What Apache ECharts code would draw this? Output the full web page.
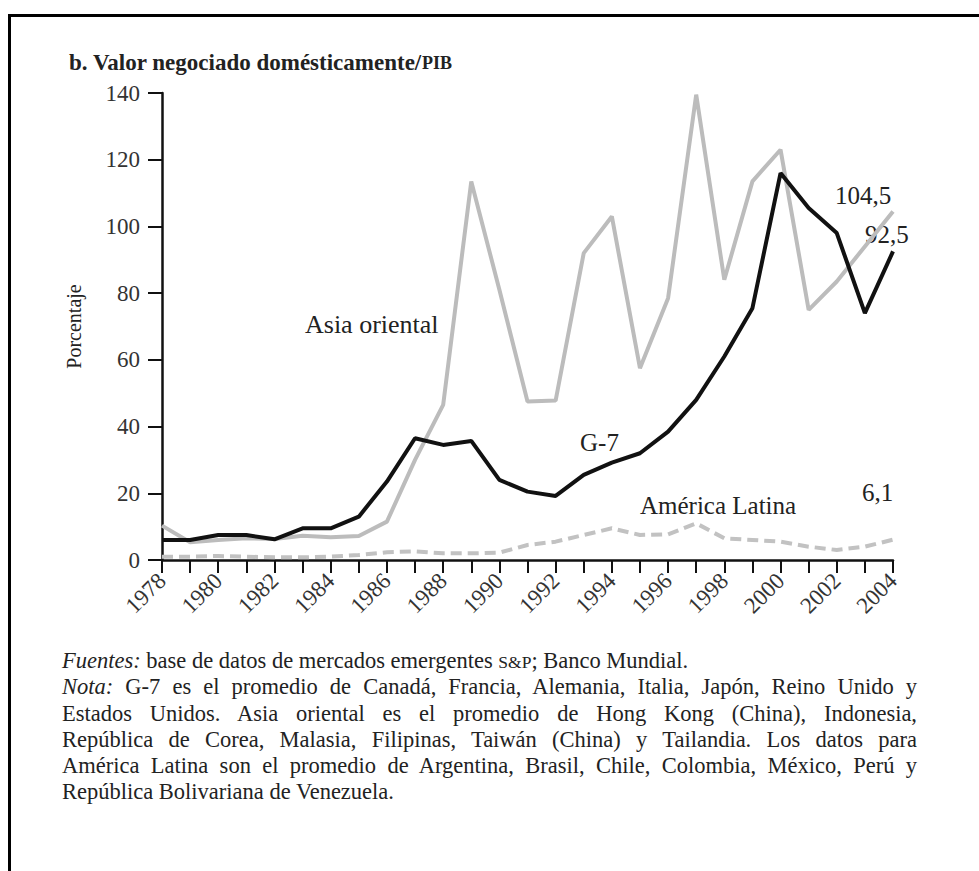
<!DOCTYPE html>
<html>
<head>
<meta charset="utf-8">
<script src="https://cdn.jsdelivr.net/npm/echarts@6/dist/echarts.min.js"></script>
<style>
html,body{margin:0;padding:0;background:#fff;}
#wrap{position:relative;width:979px;height:871px;overflow:hidden;}
#frame{position:absolute;left:8px;top:14px;width:990px;height:900px;border-top:3px solid #000;border-left:3px solid #000;}
#chart{position:absolute;left:0;top:0;width:979px;height:871px;}
#notes{position:absolute;left:62px;top:648px;width:855px;font-family:"Liberation Serif",serif;font-size:22.5px;line-height:26.3px;color:#222;}
#notes div{white-space:nowrap;height:26.3px;}
#notes .j{text-align:justify;text-align-last:justify;}
.sc{font-size:17.5px;}
</style>
</head>
<body>
<div id="wrap">
<div id="frame"></div>
<div id="chart"></div>
<div id="notes">
<div><i>Fuentes:</i> base de datos de mercados emergentes <span class="sc">S&amp;P</span>; Banco Mundial.</div>
<div class="j"><i>Nota:</i> G-7 es el promedio de Canadá, Francia, Alemania, Italia, Japón, Reino Unido y</div>
<div class="j">Estados Unidos. Asia oriental es el promedio de Hong Kong (China), Indonesia,</div>
<div class="j">República de Corea, Malasia, Filipinas, Taiwán (China) y Tailandia. Los datos para</div>
<div class="j">América Latina son el promedio de Argentina, Brasil, Chile, Colombia, México, Perú y</div>
<div>República Bolivariana de Venezuela.</div>
</div>
</div>
<script>
const years = ['1978','1979','1980','1981','1982','1983','1984','1985','1986','1987','1988','1989','1990','1991','1992','1993','1994','1995','1996','1997','1998','1999','2000','2001','2002','2003','2004'];
const g7 = [6.0,6.0,7.5,7.5,6.2,9.5,9.5,13,23.5,36.5,34.5,35.7,24,20.5,19.2,25.5,29.2,32,38.5,48,61,75.5,116,105.5,98,74,92.5];
const asiaOriental = [10.3,5.3,6.0,6.5,6.3,7.3,6.8,7.2,11.5,30,46.5,113.5,81,47.5,47.8,92,103,57.5,78.5,139.5,84,113.5,123,75,83.5,94,104.5];
const americaLatina = [1.0,1.0,1.2,1.0,0.8,0.8,1.0,1.5,2.3,2.6,2.0,2.0,2.2,4.5,5.5,7.5,9.5,7.5,7.7,11,6.5,6.0,5.5,4.0,3.0,4.0,6.1];
const yTicks = [0,20,40,60,80,100,120,140];

const serif = '"Liberation Serif", serif';
const chart = echarts.init(document.getElementById('chart'), null, {renderer:'svg'});
chart.setOption({
  animation:false,
  backgroundColor:'transparent',
  grid:{left:162,right:86,top:93,bottom:311,containLabel:false},
  title:{
    left:64, top:46,
    text:'{a|b. Valor negociado domésticamente/}{b|PIB}',
    textStyle:{rich:{
      a:{fontFamily:serif,fontSize:23,fontWeight:'bold',color:'#222'},
      b:{fontFamily:serif,fontSize:18,fontWeight:'bold',color:'#222'}
    }}
  },
  xAxis:{
    type:'category', data:years, boundaryGap:false,
    axisLine:{lineStyle:{color:'#111',width:2.5}},
    axisTick:{show:true,interval:0,length:13,lineStyle:{color:'#111',width:2}},
    axisLabel:{interval:1,rotate:45,margin:17,fontFamily:serif,fontSize:23,color:'#333'},
    splitLine:{show:false}
  },
  yAxis:{
    type:'value', min:0, max:140, interval:20,
    name:'Porcentaje', nameLocation:'middle', nameGap:78, nameRotate:90,
    nameTextStyle:{fontFamily:serif,fontSize:20,color:'#222'},
    axisLine:{show:true,lineStyle:{color:'#111',width:2.5}},
    axisTick:{show:true,length:14,lineStyle:{color:'#111',width:2}},
    axisLabel:{margin:22,fontFamily:serif,fontSize:23,color:'#333',
      formatter:v=>yTicks.includes(v)?String(v):''},
    splitLine:{show:false}
  },
  series:[
    {name:'América Latina',type:'line',data:americaLatina,symbol:'none',
      lineStyle:{color:'#c2c2c2',width:4,type:[11,6]},z:1},
    {name:'Asia oriental',type:'line',data:asiaOriental,symbol:'none',
      lineStyle:{color:'#bcbcbc',width:4},z:2},
    {name:'G-7',type:'line',data:g7,symbol:'none',
      lineStyle:{color:'#111',width:4},z:3}
  ],
  graphic:[
    {type:'text',left:305,top:311,style:{text:'Asia oriental',font:'26px "Liberation Serif"',fill:'#222'}},
    {type:'text',left:580,top:430,style:{text:'G-7',font:'25px "Liberation Serif"',fill:'#222'}},
    {type:'text',left:640,top:493,style:{text:'América Latina',font:'25px "Liberation Serif"',fill:'#222'}},
    {type:'text',left:835,top:183,style:{text:'104,5',font:'25px "Liberation Serif"',fill:'#222'}},
    {type:'text',left:865,top:222,style:{text:'92,5',font:'25px "Liberation Serif"',fill:'#222'}},
    {type:'text',left:862,top:480,style:{text:'6,1',font:'25px "Liberation Serif"',fill:'#222'}}
  ]
});
</script>
</body>
</html>
